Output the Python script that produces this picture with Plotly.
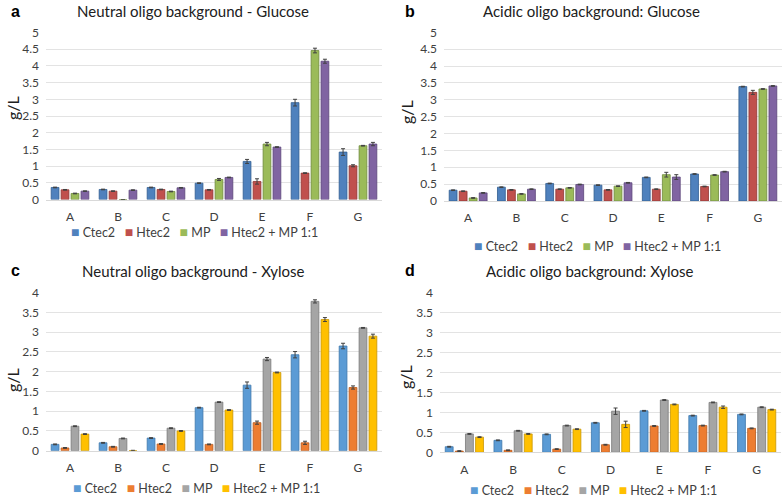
import plotly.graph_objects as go

categories = ["A", "B", "C", "D", "E", "F", "G"]
series_names = ["Ctec2", "Htec2", "MP", "Htec2 + MP 1:1"]

# Panel a: Neutral oligo background - Glucose
a_ctec2 = [0.36, 0.30, 0.36, 0.49, 1.14, 2.90, 1.42]
a_htec2 = [0.29, 0.25, 0.30, 0.29, 0.54, 0.79, 1.01]
a_mp = [0.18, 0.0, 0.24, 0.60, 1.66, 4.46, 1.61]
a_mix = [0.25, 0.28, 0.35, 0.66, 1.57, 4.14, 1.66]
a_ctec2_err = [0.01, 0.01, 0.01, 0.01, 0.06, 0.10, 0.10]
a_htec2_err = [0.01, 0.01, 0.01, 0.01, 0.08, 0.01, 0.03]
a_mp_err = [0.01, 0.0, 0.01, 0.03, 0.05, 0.07, 0.01]
a_mix_err = [0.01, 0.01, 0.01, 0.01, 0.01, 0.06, 0.05]

# Panel b: Acidic oligo background: Glucose
b_ctec2 = [0.32, 0.41, 0.52, 0.47, 0.70, 0.80, 3.39]
b_htec2 = [0.29, 0.33, 0.35, 0.33, 0.35, 0.43, 3.22]
b_mp = [0.09, 0.21, 0.39, 0.44, 0.78, 0.77, 3.32]
b_mix = [0.24, 0.35, 0.49, 0.54, 0.71, 0.87, 3.41]
b_ctec2_err = [0.01, 0.01, 0.01, 0.01, 0.01, 0.01, 0.01]
b_htec2_err = [0.01, 0.01, 0.01, 0.01, 0.01, 0.01, 0.06]
b_mp_err = [0.01, 0.01, 0.01, 0.01, 0.07, 0.01, 0.01]
b_mix_err = [0.01, 0.01, 0.01, 0.01, 0.07, 0.01, 0.01]

# Panel c: Neutral oligo background - Xylose
c_ctec2 = [0.16, 0.20, 0.32, 1.09, 1.66, 2.43, 2.65]
c_htec2 = [0.07, 0.10, 0.17, 0.16, 0.71, 0.20, 1.60]
c_mp = [0.62, 0.31, 0.57, 1.23, 2.32, 3.78, 3.11]
c_mix = [0.42, 0.0, 0.50, 1.03, 1.98, 3.32, 2.90]
c_ctec2_err = [0.01, 0.01, 0.01, 0.01, 0.08, 0.08, 0.07]
c_htec2_err = [0.01, 0.01, 0.01, 0.01, 0.04, 0.04, 0.04]
c_mp_err = [0.01, 0.01, 0.01, 0.01, 0.04, 0.04, 0.01]
c_mix_err = [0.01, 0.01, 0.01, 0.01, 0.01, 0.05, 0.05]

# Panel d: Acidic oligo background: Xylose
d_ctec2 = [0.14, 0.30, 0.45, 0.74, 1.04, 0.92, 0.95]
d_htec2 = [0.03, 0.05, 0.08, 0.19, 0.66, 0.67, 0.60]
d_mp = [0.46, 0.54, 0.67, 1.03, 1.31, 1.25, 1.13]
d_mix = [0.38, 0.46, 0.58, 0.70, 1.20, 1.13, 1.07]
d_ctec2_err = [0.01, 0.01, 0.01, 0.01, 0.01, 0.01, 0.01]
d_htec2_err = [0.01, 0.01, 0.01, 0.01, 0.01, 0.01, 0.01]
d_mp_err = [0.01, 0.01, 0.01, 0.08, 0.01, 0.01, 0.01]
d_mix_err = [0.01, 0.01, 0.01, 0.08, 0.01, 0.03, 0.01]

colors_top = ["#4F81BD", "#C0504D", "#9BBB59", "#8064A2"]
edges_top = ["#2E5C8F", "#8E3532", "#6F8A3C", "#5A4478"]
colors_bot = ["#5B9BD5", "#ED7D31", "#A5A5A5", "#FFC000"]
edges_bot = ["#3E77AC", "#B85A1E", "#7A7A7A", "#C89500"]

panels = [
    ("a", "Neutral oligo background - Glucose", [a_ctec2, a_htec2, a_mp, a_mix],
     [a_ctec2_err, a_htec2_err, a_mp_err, a_mix_err], colors_top, edges_top),
    ("b", "Acidic oligo background: Glucose", [b_ctec2, b_htec2, b_mp, b_mix],
     [b_ctec2_err, b_htec2_err, b_mp_err, b_mix_err], colors_top, edges_top),
    ("c", "Neutral oligo background - Xylose", [c_ctec2, c_htec2, c_mp, c_mix],
     [c_ctec2_err, c_htec2_err, c_mp_err, c_mix_err], colors_bot, edges_bot),
    ("d", "Acidic oligo background: Xylose", [d_ctec2, d_htec2, d_mp, d_mix],
     [d_ctec2_err, d_htec2_err, d_mp_err, d_mix_err], colors_bot, edges_bot),
]

W, H = 784, 497


def px(x):
    return x / W


def py(y):
    return (H - y) / H


# plot-area pixel boxes: (x0, x1, y_top, y_bottom)
boxes = [
    (46, 382, 32.5, 199.5),
    (444, 782, 32.3, 201),
    (46, 382, 292.7, 450.7),
    (440, 781, 292.7, 452.3),
]
yranges = [[0, 5], [0, 5], [0, 4], [0, 4]]
title_pos = [(193, 11), (591, 11), (193, 271), (590, 271)]
letter_pos = [(15, 11), (410, 11), (15, 270), (410, 270)]
ytitle_pos = [(13, 108), (406, 112), (12, 380), (405, 377)]
legend_pos = [(194, 232), (597, 245), (196, 487), (593, 489)]

FONT = "Lato"
fig = go.Figure()
for i, (letter, title, vals, errs, cols, edges) in enumerate(panels):
    ax = "" if i == 0 else str(i + 1)
    for s in range(4):
        fig.add_trace(go.Bar(
            x=categories, y=vals[s], name=series_names[s],
            marker=dict(color=cols[s], line=dict(color=edges[s], width=0.8)),
            error_y=dict(type="data", array=errs[s], color="#404040",
                         thickness=1, width=2),
            xaxis="x" + ax, yaxis="y" + ax, showlegend=False,
        ))
    x0, x1, yt, yb = boxes[i]
    fig.layout["xaxis" + ax] = dict(
        domain=[px(x0), px(x1)], anchor="y" + ax, type="category",
        range=[-0.5, 6.5], showgrid=False, showline=True, linecolor="#D9D9D9",
        linewidth=1, ticks="", tickfont=dict(family=FONT, size=12, color="#404040"),
        ticklabelstandoff=6, automargin=False,
    )
    fig.layout["yaxis" + ax] = dict(
        domain=[py(yb), py(yt)], anchor="x" + ax, range=yranges[i],
        dtick=0.5, showgrid=True, gridcolor="#E3E3E3", gridwidth=1,
        zeroline=False, showline=False, ticks="",
        tickfont=dict(family=FONT, size=12, color="#404040"),
        ticklabelstandoff=6, automargin=False,
    )
    parts = []
    for s in range(4):
        parts.append(f"<span style='color:{cols[s]};font-size:14px'>■</span> {series_names[s]}")
    legend_text = "&nbsp;&nbsp;&nbsp;".join(parts)
    lgx, lgy = legend_pos[i]
    fig.add_annotation(x=px(lgx), y=py(lgy), xref="paper", yref="paper",
                       text=legend_text, showarrow=False, xanchor="center", yanchor="middle",
                       font=dict(family=FONT, size=12.5, color="#404040"))
    tx, ty = title_pos[i]
    fig.add_annotation(x=px(tx), y=py(ty), xref="paper", yref="paper",
                       text=title, showarrow=False, xanchor="center", yanchor="middle",
                       font=dict(family=FONT, size=15, color="#202020"))
    lxp, lyp = letter_pos[i]
    fig.add_annotation(x=px(lxp), y=py(lyp), xref="paper", yref="paper",
                       text=f"<b>{letter}</b>", showarrow=False, xanchor="center",
                       yanchor="middle", font=dict(family="Liberation Sans", size=16, color="#000000"))
    gx, gy = ytitle_pos[i]
    fig.add_annotation(x=px(gx), y=py(gy), xref="paper", yref="paper",
                       text="g/L", showarrow=False, textangle=-90, xanchor="center",
                       yanchor="middle", font=dict(family=FONT, size=16, color="#202020"))

fig.update_layout(
    width=W, height=H, margin=dict(l=0, r=0, t=0, b=0),
    paper_bgcolor="white", plot_bgcolor="white",
    barmode="group", bargap=0.17, bargroupgap=0.22,
    showlegend=False,
)
# remove the browser's default 8px body margin so the figure fills the window
fig.write_html("out.html", config={"displayModeBar": False},
               post_script="document.body.style.margin='0';document.body.style.overflow='hidden';")
